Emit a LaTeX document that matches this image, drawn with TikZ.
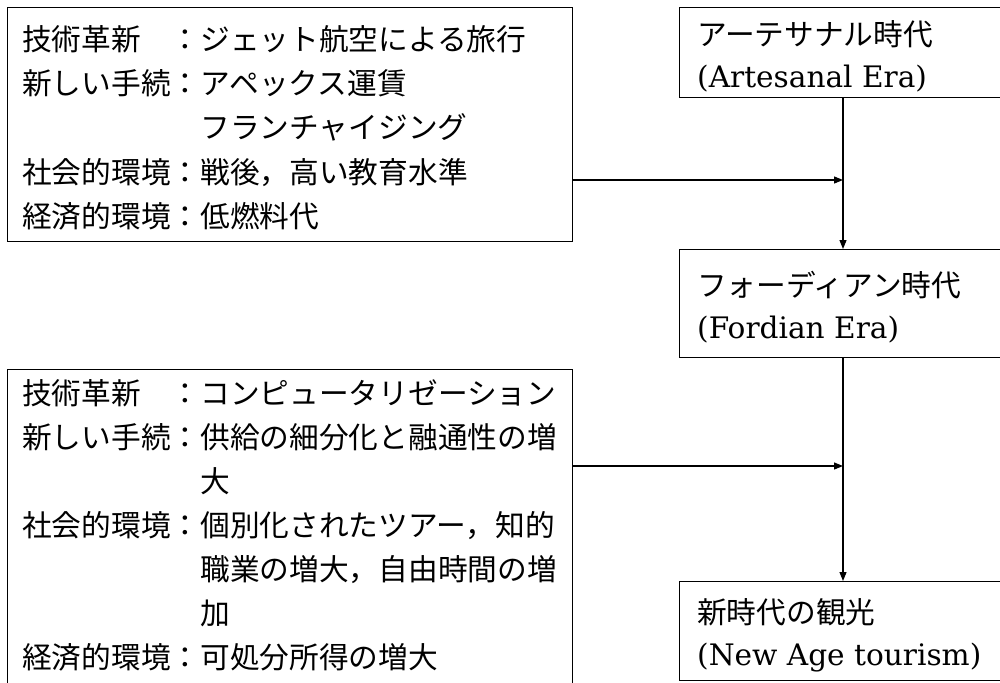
\documentclass[tikz,border=0pt]{standalone}
\usepackage{fontspec}
\setmainfont{DejaVu Serif}
\newfontfamily\jp{Noto Sans CJK JP}
\usetikzlibrary{arrows.meta}
\begin{document}
\begin{tikzpicture}[x=1pt,y=-1pt,
  box/.style={draw, line width=1.2pt, inner sep=0pt, anchor=north west},
  jt/.style={anchor=base west, inner sep=0pt, font=\fontsize{29.7pt}{44pt}\selectfont\jp},
  lt/.style={anchor=base west, inner sep=0pt, font=\fontsize{29.6pt}{44pt}\selectfont},
  arr/.style={line width=1.2pt, -{Triangle[length=9pt,width=7pt]}}]
\useasboundingbox (0,0) rectangle (1000,682);
\clip (0,0) rectangle (1000,682);
% boxes
\node[box, minimum width=565pt, minimum height=234pt] (L1) at (7,7) {};
\node[box, minimum width=565pt, minimum height=330pt] (L2) at (7,369) {};
\node[box, minimum width=331pt, minimum height=90pt] (R1) at (679,7) {};
\node[box, minimum width=331pt, minimum height=108pt] (R2) at (679,249) {};
\node[box, minimum width=331pt, minimum height=99pt] (R3) at (679,581) {};
% left upper text
\node[jt] (a1) at (22,51) {技術革新　：ジェット航空による旅行};
\node[jt] (a2) at (22,95) {新しい手続：アペックス運賃};
\node[jt] (a3) at (200.2,139) {フランチャイジング};
\node[jt] (a4) at (22,183) {社会的環境：戦後，高い教育水準};
\node[jt] (a5) at (22,227) {経済的環境：低燃料代};
% left lower text
\node[jt] (b1) at (22,404) {技術革新　：コンピュータリゼーション};
\node[jt] (b2) at (22,448) {新しい手続：供給の細分化と融通性の増};
\node[jt] (b3) at (200.2,492) {大};
\node[jt] (b4) at (22,536) {社会的環境：個別化されたツアー，知的};
\node[jt] (b5) at (200.2,580) {職業の増大，自由時間の増};
\node[jt] (b6) at (200.2,624) {加};
\node[jt] (b7) at (22,668) {経済的環境：可処分所得の増大};
% right text
\node[jt] (r1a) at (697,46) {アーテサナル時代};
\node[lt] (r1b) at (697,88) {(Artesanal Era)};
\node[jt] (r2a) at (697,296) {フォーディアン時代};
\node[lt] (r2b) at (697,338) {(Fordian Era)};
\node[jt] (r3a) at (697,623) {新時代の観光};
\node[lt] (r3b) at (697,665) {(New Age tourism)};
% connectors
\coordinate (col) at (843,0);
\coordinate (j1) at (843,180);
\coordinate (j2) at (843,466);
\draw[arr] (R1.south -| col) -- (R2.north -| col);
\draw[arr] (R2.south -| col) -- (R3.north -| col);
\draw[arr] (L1.east |- j1) -- (j1);
\draw[arr] (L2.east |- j2) -- (j2);
\end{tikzpicture}
\end{document}
